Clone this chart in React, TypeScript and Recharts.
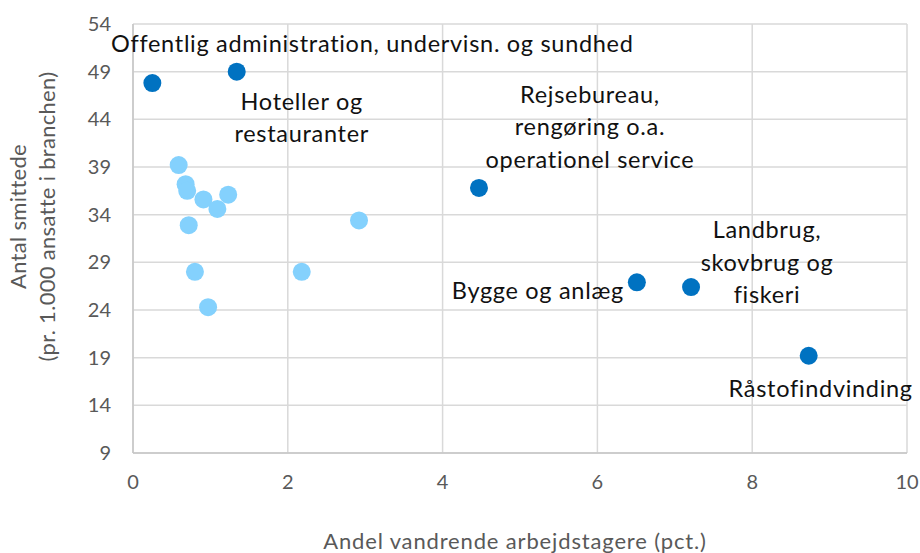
import { CartesianGrid, Scatter, ScatterChart, XAxis, YAxis } from "recharts";

// brancher med navn (mørkeblå)
const sectorLabels = [
  ["Offentlig administration, undervisn. og sundhed"],
  ["Hoteller og", "restauranter"],
  ["Rejsebureau,", "rengøring o.a.", "operationel service"],
  ["Bygge og anlæg"],
  ["Landbrug,", "skovbrug og", "fiskeri"],
  ["Råstofindvinding"]
];
const sectorShare = [0.25, 1.34, 4.47, 6.51, 7.21, 8.73];
const sectorCases = [47.8, 49.0, 36.8, 26.9, 26.4, 19.2];

// øvrige brancher (lyseblå)
const otherShare = [0.59, 0.68, 0.7, 0.91, 1.09, 1.23, 0.72, 0.8, 0.97, 2.18, 2.92];
const otherCases = [39.2, 37.2, 36.5, 35.6, 34.6, 36.1, 32.9, 28.0, 24.3, 28.0, 33.4];

const xTicks = [0, 2, 4, 6, 8, 10];
const yTicks = [9, 14, 19, 24, 29, 34, 39, 44, 49, 54];

// label placement relative to the dot (px)
const labelOffsets = [
  { dx: 220, dy: -31 },
  { dx: 65, dy: 38 },
  { dx: 111, dy: -85 },
  { dx: -99, dy: 17 },
  { dx: 76, dy: -49 },
  { dx: 12, dy: 41 }
];

const namedData = sectorLabels.map((lines, i) => ({
  x: sectorShare[i],
  y: sectorCases[i],
  lines,
  idx: i
}));
const otherData = otherShare.map((x, i) => ({ x, y: otherCases[i] }));

const FONT = "Lato, 'Noto Sans', sans-serif";
const DARK = "#0072c1";
const LIGHT = "#84d1fd";

const NamedDot = (props: any) => {
  const { cx, cy, payload } = props;
  const off = labelOffsets[payload.idx];
  return (
    <g>
      <circle cx={cx} cy={cy} r={9} fill={DARK} />
      <text
        x={cx + off.dx}
        y={cy + off.dy}
        textAnchor="middle"
        fontFamily={FONT}
        fontSize={23.5}
        letterSpacing={0.7}
        fill="#111"
      >
        {payload.lines.map((l: string, k: number) => (
          <tspan key={k} x={cx + off.dx} dy={k === 0 ? 0 : 32.5}>
            {l}
          </tspan>
        ))}
      </text>
    </g>
  );
};

const LightDot = (props: any) => <circle cx={props.cx} cy={props.cy} r={9} fill={LIGHT} />;

export default function App() {
  return (
    <div style={{ position: "fixed", left: 0, top: 0, width: 920, height: 553, background: "#fff" }}>
      <ScatterChart width={920} height={553} margin={{ top: 24, right: 13, bottom: 40, left: 53 }}>
        <CartesianGrid stroke="#d9d9d9" strokeWidth={1.5} />
        <XAxis
          type="number"
          dataKey="x"
          domain={[0, 10]}
          ticks={xTicks}
          height={60}
          axisLine={{ stroke: "#c6c6c6", strokeWidth: 1.5 }}
          tickLine={false}
          tickSize={0}
          tickMargin={22}
          tick={{ fill: "#595959", fontSize: 20, fontFamily: FONT }}
          label={{
            content: (p: any) => {
              const vb = p.viewBox;
              return (
                <text
                  x={vb.x + vb.width / 2 - 5}
                  y={vb.y + 96}
                  textAnchor="middle"
                  fontFamily={FONT}
                  fontSize={22}
                  letterSpacing={0.85}
                  fill="#595959"
                >
                  Andel vandrende arbejdstagere (pct.)
                </text>
              );
            }
          }}
        />
        <YAxis
          type="number"
          dataKey="y"
          domain={[9, 54]}
          ticks={yTicks}
          width={80}
          axisLine={{ stroke: "#c6c6c6", strokeWidth: 1.5 }}
          tickLine={false}
          tickSize={0}
          tickMargin={22}
          tick={{ fill: "#595959", fontSize: 20, fontFamily: FONT }}
          label={{
            content: (p: any) => {
              const vb = p.viewBox;
              const cy = vb.y + vb.height / 2 - 22;
              return (
                <g fontFamily={FONT} fontSize={22} letterSpacing={0.3} fill="#595959" textAnchor="middle">
                  <text x={26} y={cy} transform={`rotate(-90 26 ${cy})`}>
                    Antal smittede
                  </text>
                  <text x={55} y={cy} transform={`rotate(-90 55 ${cy})`}>
                    (pr. 1.000 ansatte i branchen)
                  </text>
                </g>
              );
            }
          }}
        />
        <Scatter data={otherData} shape={LightDot} isAnimationActive={false} />
        <Scatter data={namedData} shape={NamedDot} isAnimationActive={false} />
      </ScatterChart>
    </div>
  );
}
